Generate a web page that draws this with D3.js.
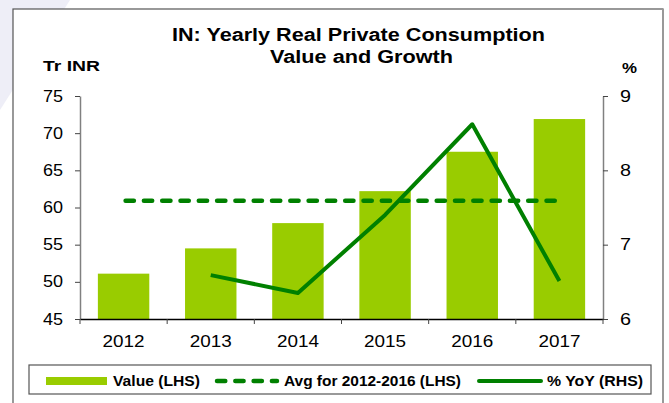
<!DOCTYPE html>
<html lang="en">
  <head>
    <title>yearly_consumption</title>
    <script src="https://d3js.org/d3.v7.min.js"></script>
    <style>
      body {margin:0; background:white;}
      svg text {font-family: "Liberation Sans", Arial, sans-serif; fill:#000;}
      .tick text {font-size:16px;}
    </style>
  </head>
  <body>
    <script>
      // data
      var years = ['2012', '2013', '2014', '2015', '2016', '2017'];
      var values = [51.1, 54.5, 57.9, 62.2, 67.5, 71.9];
      var avgYears = ['2012', '2017'];
      var avgValue = [60.9, 60.9];
      var yoyYears = ['2013', '2014', '2015', '2016', '2017'];
      var yoy = [6.59, 6.35, 7.40, 8.62, 6.51];
      var leftTicks = [45, 50, 55, 60, 65, 70, 75];
      var rightTicks = [6, 7, 8, 9];

      const width = 669;
      const height = 403;
      const margin = {top: 96, left: 80, bottom: 319, right: 603};

      const svg = d3.select('body').append('svg').attr('width', width).attr('height', height);

      // faint background shape behind the frame
      svg.append('path')
        .attr('d', 'M0,0 L70,0 L0,110 Z')
        .attr('fill', '#eeeef7');

      // outer frame
      svg.append('rect')
        .attr('x', 13).attr('y', 9).attr('width', 650).attr('height', 420)
        .attr('fill', 'white').attr('stroke', '#555').attr('stroke-width', 1.2);
      svg.append('line')
        .attr('x1', 663).attr('x2', 663).attr('y1', 9).attr('y2', 403)
        .attr('stroke', '#999').attr('stroke-width', 2);

      const x = d3.scaleBand()
        .domain(years)
        .range([margin.left, margin.right])
        .paddingInner(0.41)
        .paddingOuter(0.205);

      const yL = d3.scaleLinear().domain([45, 75]).range([margin.bottom, margin.top]);
      const yR = d3.scaleLinear().domain([6, 9]).range([margin.bottom, margin.top]);
      const cx = d => x(d) + x.bandwidth() / 2;

      // bars
      svg.append('g')
        .selectAll('rect').data(values).enter().append('rect')
        .attr('x', (d, i) => x(years[i]))
        .attr('y', d => yL(d))
        .attr('width', x.bandwidth())
        .attr('height', d => yL(45) - yL(d))
        .attr('fill', '#99cc00');

      // average line (dashed)
      svg.append('path')
        .datum(avgValue)
        .attr('d', d3.line().x((d, i) => cx(avgYears[i]) + 2).y(d => yL(d)))
        .attr('fill', 'none')
        .attr('stroke', '#008000')
        .attr('stroke-width', 4.5)
        .attr('stroke-linecap', 'round')
        .attr('stroke-dasharray', '8.3,10');

      // yoy line
      svg.append('path')
        .datum(yoy)
        .attr('d', d3.line().x((d, i) => cx(yoyYears[i])).y(d => yR(d)))
        .attr('fill', 'none')
        .attr('stroke', '#008000')
        .attr('stroke-width', 4)
        .attr('stroke-linejoin', 'round');

      // left axis
      const gl = svg.append('g')
        .attr('transform', `translate(${margin.left},0)`)
        .call(d3.axisLeft(yL).tickValues(leftTicks).tickSize(5).tickSizeOuter(0).tickPadding(12));
      gl.select('.domain').attr('stroke', '#808080').attr('stroke-width', 1.5);
      gl.selectAll('.tick line').attr('stroke', '#444');
      gl.selectAll('.tick text').attr('textLength', 20).attr('lengthAdjust', 'spacingAndGlyphs');

      // right axis
      const gr = svg.append('g')
        .attr('transform', `translate(${margin.right},0)`)
        .call(d3.axisRight(yR).tickValues(rightTicks).tickFormat(d3.format('d'))
          .tickSize(5).tickSizeOuter(0).tickPadding(12));
      gr.select('.domain').attr('stroke', '#808080').attr('stroke-width', 1.5);
      gr.selectAll('.tick line').attr('stroke', '#444');
      gr.selectAll('.tick text').attr('textLength', 11).attr('lengthAdjust', 'spacingAndGlyphs');

      // bottom axis
      const gb = svg.append('g')
        .attr('transform', `translate(0,${margin.bottom})`)
        .call(d3.axisBottom(x).tickSize(0).tickPadding(16.6));
      gb.select('.domain').attr('stroke', '#000').attr('stroke-width', 1.5);
      gb.selectAll('.tick text').attr('textLength', 42).attr('lengthAdjust', 'spacingAndGlyphs');
      gb.selectAll('line.sep')
        .data(d3.range(years.length + 1)).enter().append('line')
        .attr('class', 'sep')
        .attr('x1', i => margin.left + i * x.step())
        .attr('x2', i => margin.left + i * x.step())
        .attr('y1', 0).attr('y2', 5)
        .attr('stroke', '#444');

      // titles
      svg.append('text').attr('x', 358.5).attr('y', 41).attr('text-anchor', 'middle')
        .style('font-size', '18px').style('font-weight', 'bold')
        .attr('textLength', 373).attr('lengthAdjust', 'spacingAndGlyphs')
        .text('IN: Yearly Real Private Consumption');
      svg.append('text').attr('x', 361.5).attr('y', 63).attr('text-anchor', 'middle')
        .style('font-size', '18px').style('font-weight', 'bold')
        .attr('textLength', 183).attr('lengthAdjust', 'spacingAndGlyphs')
        .text('Value and Growth');
      svg.append('text').attr('x', 43).attr('y', 71)
        .style('font-size', '15px').style('font-weight', 'bold')
        .attr('textLength', 57).attr('lengthAdjust', 'spacingAndGlyphs')
        .text('Tr INR');
      svg.append('text').attr('x', 622).attr('y', 73)
        .style('font-size', '15px').style('font-weight', 'bold')
        .attr('textLength', 15).attr('lengthAdjust', 'spacingAndGlyphs')
        .text('%');

      // legend
      const lg = svg.append('g');
      lg.append('rect').attr('x', 29).attr('y', 365).attr('width', 622).attr('height', 29)
        .attr('fill', 'white').attr('stroke', '#555').attr('stroke-width', 1.2);
      lg.append('rect').attr('x', 46).attr('y', 377).attr('width', 61).attr('height', 8).attr('fill', '#99cc00');
      lg.append('line').attr('x1', 217).attr('x2', 277).attr('y1', 381).attr('y2', 381)
        .attr('stroke', '#008000').attr('stroke-width', 4.5).attr('stroke-linecap', 'round')
        .attr('stroke-dasharray', '8.3,10');
      lg.append('line').attr('x1', 479).attr('x2', 541).attr('y1', 381).attr('y2', 381)
        .attr('stroke', '#008000').attr('stroke-width', 4).attr('stroke-linecap', 'round');
      var legendText = [
        {t: 'Value (LHS)', x: 113, w: 87},
        {t: 'Avg for 2012-2016 (LHS)', x: 284, w: 177},
        {t: '% YoY (RHS)', x: 547, w: 96}
      ];
      lg.selectAll('text.lt').data(legendText).enter().append('text')
        .attr('class', 'lt')
        .attr('x', d => d.x).attr('y', 386)
        .style('font-size', '15px').style('font-weight', 'bold')
        .attr('textLength', d => d.w).attr('lengthAdjust', 'spacingAndGlyphs')
        .text(d => d.t);
    </script>
  </body>
</html>
